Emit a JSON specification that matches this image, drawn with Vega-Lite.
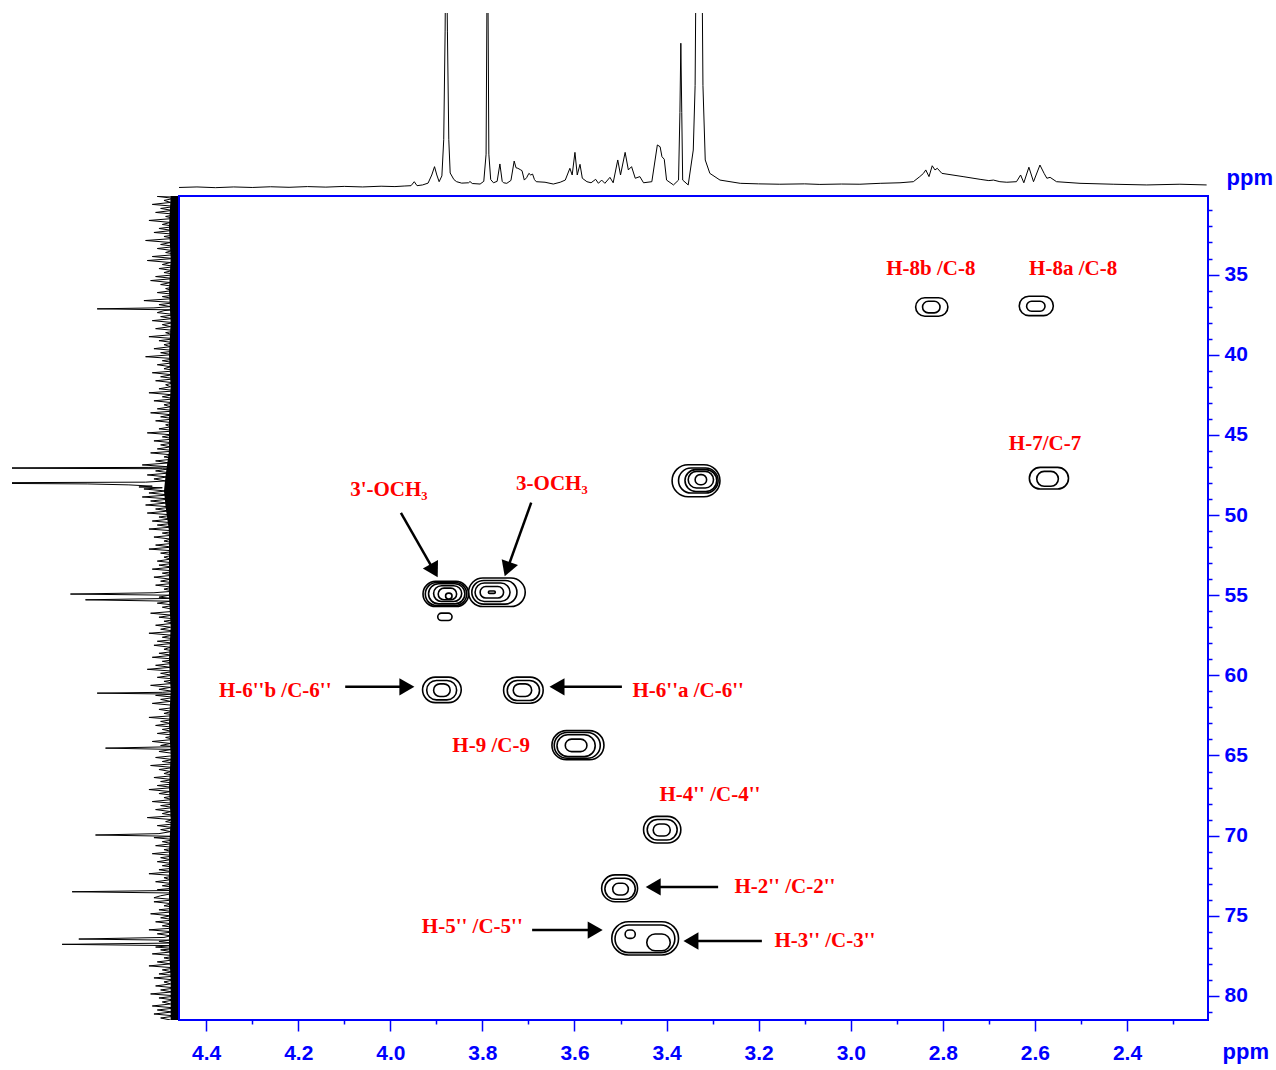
{
  "$schema": "https://vega.github.io/schema/vega-lite/v6.json",
  "background": "white",
  "padding": {"left": 12, "top": 13, "right": 0, "bottom": 0},
  "config": {"view": {"stroke": null}},
  "columns": 2,
  "spacing": {"row": 2, "column": 0},
  "align": "each",
  "bounds": "flush",
  "datasets": {
    "h1": [
      {"h": 4.459, "i": 3.6}, {"h": 4.42, "i": 3.9}, {"h": 4.38, "i": 3.5}, {"h": 4.34, "i": 3.9},
      {"h": 4.30, "i": 3.6}, {"h": 4.26, "i": 4.0}, {"h": 4.22, "i": 3.7}, {"h": 4.18, "i": 4.1},
      {"h": 4.14, "i": 3.8}, {"h": 4.10, "i": 4.2}, {"h": 4.06, "i": 3.9}, {"h": 4.02, "i": 4.3},
      {"h": 3.99, "i": 4.1}, {"h": 3.97, "i": 4.4}, {"h": 3.955, "i": 4.6}, {"h": 3.948, "i": 6.8},
      {"h": 3.942, "i": 4.6}, {"h": 3.93, "i": 5.0}, {"h": 3.918, "i": 6.0}, {"h": 3.910, "i": 10.5},
      {"h": 3.904, "i": 15.1}, {"h": 3.899, "i": 10.5}, {"h": 3.894, "i": 6.8}, {"h": 3.888, "i": 10},
      {"h": 3.884, "i": 30}, {"h": 3.881, "i": 90}, {"h": 3.879, "i": 160}, {"h": 3.876, "i": 90},
      {"h": 3.873, "i": 30}, {"h": 3.870, "i": 11.6}, {"h": 3.862, "i": 8.0}, {"h": 3.856, "i": 6.8},
      {"h": 3.845, "i": 6.0}, {"h": 3.830, "i": 6.2}, {"h": 3.827, "i": 6.9}, {"h": 3.822, "i": 5.8},
      {"h": 3.805, "i": 5.5}, {"h": 3.797, "i": 7}, {"h": 3.792, "i": 22}, {"h": 3.789, "i": 160},
      {"h": 3.786, "i": 22}, {"h": 3.782, "i": 8}, {"h": 3.776, "i": 6.2}, {"h": 3.768, "i": 7},
      {"h": 3.762, "i": 16.6}, {"h": 3.757, "i": 7}, {"h": 3.754, "i": 6.2}, {"h": 3.747, "i": 5.9},
      {"h": 3.738, "i": 7.5}, {"h": 3.731, "i": 18.2}, {"h": 3.727, "i": 14.5}, {"h": 3.723, "i": 14.2},
      {"h": 3.718, "i": 13.5}, {"h": 3.714, "i": 12.9}, {"h": 3.709, "i": 7.7}, {"h": 3.704, "i": 9},
      {"h": 3.699, "i": 11.4}, {"h": 3.695, "i": 10.5}, {"h": 3.691, "i": 11.0}, {"h": 3.687, "i": 8},
      {"h": 3.683, "i": 6.8}, {"h": 3.664, "i": 6.5}, {"h": 3.646, "i": 5.5}, {"h": 3.631, "i": 6.5},
      {"h": 3.620, "i": 7.7}, {"h": 3.610, "i": 14.2}, {"h": 3.605, "i": 10.5}, {"h": 3.599, "i": 23.0},
      {"h": 3.594, "i": 10.5}, {"h": 3.588, "i": 16.4}, {"h": 3.583, "i": 8.7}, {"h": 3.573, "i": 6.8},
      {"h": 3.564, "i": 6.2}, {"h": 3.554, "i": 8.1}, {"h": 3.548, "i": 5.9}, {"h": 3.541, "i": 7.7},
      {"h": 3.534, "i": 5.9}, {"h": 3.523, "i": 9.2}, {"h": 3.516, "i": 6.2}, {"h": 3.506, "i": 18.8},
      {"h": 3.500, "i": 10.5}, {"h": 3.490, "i": 23.0}, {"h": 3.483, "i": 13.3}, {"h": 3.476, "i": 15.1},
      {"h": 3.468, "i": 8.7}, {"h": 3.458, "i": 9.6}, {"h": 3.450, "i": 6.2}, {"h": 3.432, "i": 6.8},
      {"h": 3.420, "i": 27.1}, {"h": 3.414, "i": 26.1}, {"h": 3.410, "i": 20.6}, {"h": 3.405, "i": 19.2},
      {"h": 3.400, "i": 7.7}, {"h": 3.385, "i": 5.0}, {"h": 3.374, "i": 7.7}, {"h": 3.371, "i": 45},
      {"h": 3.369, "i": 83.3}, {"h": 3.367, "i": 45}, {"h": 3.365, "i": 7.7}, {"h": 3.353, "i": 5.0},
      {"h": 3.342, "i": 24.3}, {"h": 3.338, "i": 60}, {"h": 3.335, "i": 160}, {"h": 3.324, "i": 160},
      {"h": 3.321, "i": 60}, {"h": 3.316, "i": 18.8}, {"h": 3.306, "i": 11.4}, {"h": 3.284, "i": 7.7},
      {"h": 3.240, "i": 5.9}, {"h": 3.20, "i": 5.6}, {"h": 3.154, "i": 5.4}, {"h": 3.10, "i": 5.6},
      {"h": 3.067, "i": 5.3}, {"h": 3.02, "i": 5.5}, {"h": 2.980, "i": 5.4}, {"h": 2.936, "i": 5.9},
      {"h": 2.893, "i": 6.2}, {"h": 2.864, "i": 6.8}, {"h": 2.850, "i": 9.6}, {"h": 2.842, "i": 11.4},
      {"h": 2.837, "i": 13.3}, {"h": 2.830, "i": 9.6}, {"h": 2.823, "i": 15.6}, {"h": 2.817, "i": 13.3},
      {"h": 2.812, "i": 14.2}, {"h": 2.802, "i": 11.4}, {"h": 2.756, "i": 9.6}, {"h": 2.719, "i": 8.1},
      {"h": 2.700, "i": 7.4}, {"h": 2.690, "i": 7.7}, {"h": 2.676, "i": 6.8}, {"h": 2.661, "i": 6.5},
      {"h": 2.640, "i": 6.8}, {"h": 2.631, "i": 10.5}, {"h": 2.624, "i": 6.2}, {"h": 2.613, "i": 14.8},
      {"h": 2.603, "i": 6.8}, {"h": 2.589, "i": 16.0}, {"h": 2.580, "i": 11.4}, {"h": 2.574, "i": 8.7},
      {"h": 2.567, "i": 9.2}, {"h": 2.553, "i": 6.8}, {"h": 2.502, "i": 5.9}, {"h": 2.430, "i": 5.4},
      {"h": 2.357, "i": 5.0}, {"h": 2.285, "i": 5.4}, {"h": 2.227, "i": 5.0}
    ],
    "c13": [
      {"c":30.1,"i":4},{"c":30.125,"i":13},{"c":30.25,"i":3},{"c":30.375,"i":9},{"c":30.5,"i":5},{"c":30.625,"i":16},{"c":30.75,"i":2},{"c":30.875,"i":11},
      {"c":31.0,"i":4},{"c":31.125,"i":14},{"c":31.25,"i":1},{"c":31.375,"i":8},{"c":31.5,"i":3},{"c":31.625,"i":18},{"c":31.75,"i":5},{"c":31.875,"i":10},
      {"c":32.0,"i":2},{"c":32.125,"i":12},{"c":32.25,"i":4},{"c":32.375,"i":15},{"c":32.5,"i":1},{"c":32.625,"i":9},{"c":32.75,"i":3},{"c":32.875,"i":20},
      {"c":33.0,"i":5},{"c":33.125,"i":11},{"c":33.25,"i":2},{"c":33.375,"i":13},{"c":33.5,"i":4},{"c":33.625,"i":8},{"c":33.75,"i":1},{"c":33.875,"i":16},
      {"c":34.0,"i":3},{"c":34.125,"i":19},{"c":34.25,"i":5},{"c":34.375,"i":10},{"c":34.5,"i":2},{"c":34.625,"i":12},{"c":34.75,"i":4},{"c":34.875,"i":9},
      {"c":35.0,"i":1},{"c":35.125,"i":14},{"c":35.25,"i":3},{"c":35.375,"i":17},{"c":35.5,"i":5},{"c":35.625,"i":11},{"c":35.75,"i":2},{"c":35.875,"i":8},
      {"c":36.0,"i":4},{"c":36.125,"i":13},{"c":36.25,"i":1},{"c":36.375,"i":10},{"c":36.5,"i":3},{"c":36.625,"i":21},{"c":36.75,"i":2},{"c":36.875,"i":12},
      {"c":37.0,"i":5},{"c":37.08,"i":15},{"c":37.14,"i":49},{"c":37.2,"i":4},{"c":37.25,"i":9},{"c":37.375,"i":13},{"c":37.5,"i":2},{"c":37.625,"i":11},{"c":37.75,"i":4},{"c":37.875,"i":16},
      {"c":38.0,"i":3},{"c":38.125,"i":10},{"c":38.25,"i":5},{"c":38.375,"i":14},{"c":38.5,"i":1},{"c":38.625,"i":8},{"c":38.75,"i":4},{"c":38.875,"i":18},
      {"c":39.0,"i":2},{"c":39.125,"i":12},{"c":39.25,"i":3},{"c":39.375,"i":9},{"c":39.5,"i":5},{"c":39.625,"i":15},{"c":39.75,"i":1},{"c":39.875,"i":11},
      {"c":40.0,"i":4},{"c":40.125,"i":20},{"c":40.25,"i":2},{"c":40.375,"i":10},{"c":40.5,"i":3},{"c":40.625,"i":13},{"c":40.75,"i":5},{"c":40.875,"i":9},
      {"c":41.0,"i":1},{"c":41.125,"i":16},{"c":41.25,"i":4},{"c":41.375,"i":11},{"c":41.5,"i":2},{"c":41.625,"i":14},{"c":41.75,"i":3},{"c":41.875,"i":8},
      {"c":42.0,"i":5},{"c":42.125,"i":12},{"c":42.25,"i":1},{"c":42.375,"i":18},{"c":42.5,"i":4},{"c":42.625,"i":10},{"c":42.75,"i":2},{"c":42.875,"i":15},
      {"c":43.0,"i":3},{"c":43.125,"i":9},{"c":43.25,"i":5},{"c":43.375,"i":13},{"c":43.5,"i":1},{"c":43.625,"i":17},{"c":43.75,"i":4},{"c":43.875,"i":11},
      {"c":44.0,"i":2},{"c":44.125,"i":14},{"c":44.25,"i":3},{"c":44.375,"i":8},{"c":44.5,"i":5},{"c":44.625,"i":12},{"c":44.75,"i":1},{"c":44.875,"i":19},
      {"c":45.0,"i":4},{"c":45.125,"i":10},{"c":45.25,"i":2},{"c":45.375,"i":15},{"c":45.5,"i":3},{"c":45.625,"i":11},{"c":45.75,"i":5},{"c":45.875,"i":13},
      {"c":46.0,"i":1},{"c":46.125,"i":17},{"c":46.25,"i":4},{"c":46.375,"i":9},{"c":46.5,"i":2},{"c":46.625,"i":14},{"c":46.75,"i":6},{"c":46.875,"i":22},
      {"c":47.0,"i":5},{"c":47.03,"i":18},{"c":47.07,"i":150},{"c":47.11,"i":10},{"c":47.125,"i":6},{"c":47.25,"i":14},{"c":47.375,"i":5},{"c":47.5,"i":19},
      {"c":47.625,"i":7},{"c":47.75,"i":15},{"c":47.875,"i":8},{"c":47.95,"i":20},{"c":48.0,"i":150},{"c":48.06,"i":55},{"c":48.12,"i":30},{"c":48.2,"i":16},
      {"c":48.25,"i":24},{"c":48.3,"i":10},{"c":48.375,"i":21},{"c":48.5,"i":8},{"c":48.625,"i":18},{"c":48.75,"i":6},{"c":48.875,"i":22},
      {"c":49.0,"i":5},{"c":49.125,"i":17},{"c":49.25,"i":7},{"c":49.375,"i":20},{"c":49.5,"i":4},{"c":49.625,"i":14},{"c":49.75,"i":6},{"c":49.875,"i":19},
      {"c":50.0,"i":3},{"c":50.125,"i":12},{"c":50.25,"i":5},{"c":50.375,"i":16},{"c":50.5,"i":2},{"c":50.625,"i":13},{"c":50.75,"i":4},{"c":50.875,"i":18},
      {"c":51.0,"i":1},{"c":51.125,"i":10},{"c":51.25,"i":3},{"c":51.375,"i":15},{"c":51.5,"i":5},{"c":51.625,"i":9},{"c":51.75,"i":2},{"c":51.875,"i":14},
      {"c":52.0,"i":4},{"c":52.125,"i":18},{"c":52.25,"i":1},{"c":52.375,"i":11},{"c":52.5,"i":3},{"c":52.625,"i":9},{"c":52.75,"i":5},{"c":52.875,"i":13},
      {"c":53.0,"i":2},{"c":53.125,"i":12},{"c":53.25,"i":4},{"c":53.375,"i":16},{"c":53.5,"i":1},{"c":53.625,"i":10},{"c":53.75,"i":3},{"c":53.875,"i":15},
      {"c":54.0,"i":5},{"c":54.125,"i":11},{"c":54.25,"i":2},{"c":54.375,"i":14},{"c":54.5,"i":4},{"c":54.625,"i":9},{"c":54.75,"i":3},{"c":54.85,"i":15},
      {"c":54.93,"i":65},{"c":55.0,"i":6},{"c":55.125,"i":12},{"c":55.2,"i":4},{"c":55.29,"i":56},{"c":55.375,"i":5},{"c":55.5,"i":13},{"c":55.625,"i":2},
      {"c":55.75,"i":10},{"c":55.875,"i":4},
      {"c":56.0,"i":2},{"c":56.125,"i":17},{"c":56.25,"i":4},{"c":56.375,"i":12},{"c":56.5,"i":1},{"c":56.625,"i":9},{"c":56.75,"i":3},{"c":56.875,"i":14},
      {"c":57.0,"i":5},{"c":57.125,"i":11},{"c":57.25,"i":2},{"c":57.375,"i":18},{"c":57.5,"i":4},{"c":57.625,"i":10},{"c":57.75,"i":1},{"c":57.875,"i":13},
      {"c":58.0,"i":3},{"c":58.125,"i":15},{"c":58.25,"i":5},{"c":58.375,"i":9},{"c":58.5,"i":2},{"c":58.625,"i":12},{"c":58.75,"i":4},{"c":58.875,"i":16},
      {"c":59.0,"i":1},{"c":59.125,"i":10},{"c":59.25,"i":3},{"c":59.375,"i":14},{"c":59.5,"i":5},{"c":59.625,"i":19},{"c":59.75,"i":2},{"c":59.875,"i":11},
      {"c":60.0,"i":4},{"c":60.125,"i":13},{"c":60.25,"i":1},{"c":60.375,"i":9},{"c":60.5,"i":3},{"c":60.625,"i":17},{"c":60.75,"i":5},{"c":60.875,"i":12},
      {"c":61.0,"i":3},{"c":61.06,"i":10},{"c":61.11,"i":49},{"c":61.17,"i":4},{"c":61.25,"i":14},{"c":61.375,"i":2},{"c":61.5,"i":11},{"c":61.625,"i":5},
      {"c":61.75,"i":16},{"c":61.875,"i":3},
      {"c":62.0,"i":2},{"c":62.125,"i":12},{"c":62.25,"i":4},{"c":62.375,"i":9},{"c":62.5,"i":1},{"c":62.625,"i":18},{"c":62.75,"i":3},{"c":62.875,"i":11},
      {"c":63.0,"i":5},{"c":63.125,"i":14},{"c":63.25,"i":2},{"c":63.375,"i":10},{"c":63.5,"i":4},{"c":63.625,"i":13},{"c":63.75,"i":1},{"c":63.875,"i":8},
      {"c":64.0,"i":3},{"c":64.125,"i":16},{"c":64.25,"i":5},{"c":64.375,"i":11},{"c":64.45,"i":2},{"c":64.54,"i":44},{"c":64.62,"i":4},{"c":64.75,"i":12},
      {"c":64.875,"i":3},
      {"c":65.0,"i":2},{"c":65.125,"i":14},{"c":65.25,"i":4},{"c":65.375,"i":10},{"c":65.5,"i":1},{"c":65.625,"i":17},{"c":65.75,"i":3},{"c":65.875,"i":12},
      {"c":66.0,"i":5},{"c":66.125,"i":9},{"c":66.25,"i":2},{"c":66.375,"i":15},{"c":66.5,"i":4},{"c":66.625,"i":11},{"c":66.75,"i":1},{"c":66.875,"i":13},
      {"c":67.0,"i":3},{"c":67.125,"i":18},{"c":67.25,"i":5},{"c":67.375,"i":12},{"c":67.5,"i":2},{"c":67.625,"i":9},{"c":67.75,"i":4},{"c":67.875,"i":16},
      {"c":68.0,"i":1},{"c":68.125,"i":11},{"c":68.25,"i":3},{"c":68.375,"i":14},{"c":68.5,"i":5},{"c":68.625,"i":10},{"c":68.75,"i":2},{"c":68.875,"i":19},
      {"c":69.0,"i":4},{"c":69.125,"i":8},{"c":69.25,"i":1},{"c":69.375,"i":13},{"c":69.5,"i":3},{"c":69.625,"i":11},{"c":69.75,"i":5},{"c":69.875,"i":12},
      {"c":69.96,"i":50},{"c":70.04,"i":3},{"c":70.125,"i":15},{"c":70.25,"i":2},{"c":70.375,"i":10},{"c":70.5,"i":4},{"c":70.625,"i":14},{"c":70.75,"i":1},
      {"c":70.875,"i":9},
      {"c":71.0,"i":4},{"c":71.125,"i":16},{"c":71.25,"i":2},{"c":71.375,"i":11},{"c":71.5,"i":5},{"c":71.625,"i":13},{"c":71.75,"i":3},{"c":71.875,"i":10},
      {"c":72.0,"i":1},{"c":72.125,"i":12},{"c":72.25,"i":4},{"c":72.375,"i":18},{"c":72.5,"i":2},{"c":72.625,"i":9},{"c":72.75,"i":5},{"c":72.875,"i":14},
      {"c":73.0,"i":3},{"c":73.125,"i":10},{"c":73.25,"i":1},{"c":73.375,"i":13},{"c":73.42,"i":4},{"c":73.5,"i":64},{"c":73.58,"i":2},{"c":73.75,"i":11},
      {"c":73.875,"i":15},
      {"c":74.0,"i":2},{"c":74.125,"i":15},{"c":74.25,"i":4},{"c":74.375,"i":9},{"c":74.5,"i":1},{"c":74.625,"i":12},{"c":74.75,"i":3},{"c":74.875,"i":17},
      {"c":75.0,"i":5},{"c":75.125,"i":11},{"c":75.25,"i":2},{"c":75.375,"i":14},{"c":75.5,"i":4},{"c":75.625,"i":10},{"c":75.75,"i":1},{"c":75.875,"i":18},
      {"c":76.0,"i":3},{"c":76.125,"i":13},{"c":76.25,"i":5},{"c":76.35,"i":9},{"c":76.45,"i":60},{"c":76.52,"i":6},{"c":76.6,"i":12},{"c":76.7,"i":4},
      {"c":76.78,"i":70},{"c":76.86,"i":5},{"c":76.95,"i":14},
      {"c":77.05,"i":2},{"c":77.125,"i":11},{"c":77.25,"i":4},{"c":77.375,"i":16},{"c":77.5,"i":1},{"c":77.625,"i":9},{"c":77.75,"i":3},{"c":77.875,"i":13},
      {"c":78.0,"i":5},{"c":78.125,"i":18},{"c":78.25,"i":2},{"c":78.375,"i":10},{"c":78.5,"i":4},{"c":78.625,"i":12},{"c":78.75,"i":1},{"c":78.875,"i":15},
      {"c":79.0,"i":3},{"c":79.125,"i":9},{"c":79.25,"i":5},{"c":79.375,"i":14},{"c":79.5,"i":2},{"c":79.625,"i":11},{"c":79.75,"i":4},{"c":79.875,"i":17},
      {"c":80.0,"i":1},{"c":80.125,"i":12},{"c":80.25,"i":3},{"c":80.375,"i":10},{"c":80.5,"i":5},{"c":80.625,"i":16},{"c":80.75,"i":2},{"c":80.875,"i":13},
      {"c":81.0,"i":4},{"c":81.125,"i":15},{"c":81.25,"i":2},{"c":81.375,"i":11},{"c":81.5,"i":5}
    ],
    "c13core": [
      {"c": 30.1, "i": 5}, {"c": 32, "i": 6}, {"c": 34, "i": 5}, {"c": 36, "i": 6},
      {"c": 38, "i": 5}, {"c": 40, "i": 6}, {"c": 42, "i": 5}, {"c": 44, "i": 6},
      {"c": 46, "i": 6}, {"c": 47.5, "i": 8}, {"c": 48.5, "i": 9}, {"c": 49.5, "i": 8},
      {"c": 51, "i": 6}, {"c": 53, "i": 6}, {"c": 55, "i": 6}, {"c": 57, "i": 5},
      {"c": 59, "i": 6}, {"c": 61, "i": 5}, {"c": 63, "i": 6}, {"c": 65, "i": 5},
      {"c": 67, "i": 6}, {"c": 69, "i": 5}, {"c": 71, "i": 6}, {"c": 73, "i": 6},
      {"c": 75, "i": 6}, {"c": 77, "i": 6}, {"c": 79, "i": 5}, {"c": 81.5, "i": 5}
    ],
    "contours": [
      {"h": 2.859, "h2": 2.789, "c": 36.45, "c2": 37.60},
      {"h": 2.844, "h2": 2.806, "c": 36.67, "c2": 37.39},
      {"h": 2.634, "h2": 2.560, "c": 36.35, "c2": 37.56},
      {"h": 2.618, "h2": 2.578, "c": 36.67, "c2": 37.29},
      {"h": 2.612, "h2": 2.527, "c": 47.03, "c2": 48.38},
      {"h": 2.596, "h2": 2.549, "c": 47.28, "c2": 48.21},
      {"h": 3.388, "h2": 3.284, "c": 46.86, "c2": 48.86},
      {"h": 3.374, "h2": 3.288, "c": 47.07, "c2": 48.63},
      {"h": 3.360, "h2": 3.291, "c": 47.17, "c2": 48.53},
      {"h": 3.353, "h2": 3.298, "c": 47.28, "c2": 48.31},
      {"h": 3.338, "h2": 3.313, "c": 47.48, "c2": 48.11},
      {"h": 3.929, "h2": 3.830, "c": 54.14, "c2": 55.71},
      {"h": 3.924, "h2": 3.834, "c": 54.21, "c2": 55.64},
      {"h": 3.917, "h2": 3.838, "c": 54.29, "c2": 55.54},
      {"h": 3.906, "h2": 3.845, "c": 54.41, "c2": 55.39},
      {"h": 3.896, "h2": 3.856, "c": 54.56, "c2": 55.29},
      {"h": 3.880, "h2": 3.866, "c": 54.87, "c2": 55.24},
      {"h": 3.830, "h2": 3.707, "c": 53.93, "c2": 55.71},
      {"h": 3.823, "h2": 3.725, "c": 54.08, "c2": 55.56},
      {"h": 3.816, "h2": 3.740, "c": 54.24, "c2": 55.39},
      {"h": 3.805, "h2": 3.754, "c": 54.46, "c2": 55.18},
      {"h": 3.787, "h2": 3.772, "c": 54.74, "c2": 54.89},
      {"h": 3.897, "h2": 3.866, "c": 56.12, "c2": 56.58},
      {"h": 3.930, "h2": 3.846, "c": 60.11, "c2": 61.70},
      {"h": 3.921, "h2": 3.856, "c": 60.32, "c2": 61.53},
      {"h": 3.906, "h2": 3.870, "c": 60.53, "c2": 61.32},
      {"h": 3.754, "h2": 3.668, "c": 60.11, "c2": 61.74},
      {"h": 3.746, "h2": 3.676, "c": 60.32, "c2": 61.57},
      {"h": 3.733, "h2": 3.693, "c": 60.53, "c2": 61.32},
      {"h": 3.649, "h2": 3.536, "c": 63.45, "c2": 65.27},
      {"h": 3.644, "h2": 3.544, "c": 63.57, "c2": 65.17},
      {"h": 3.638, "h2": 3.555, "c": 63.71, "c2": 65.07},
      {"h": 3.620, "h2": 3.573, "c": 63.98, "c2": 64.76},
      {"h": 3.450, "h2": 3.369, "c": 68.80, "c2": 70.46},
      {"h": 3.442, "h2": 3.377, "c": 68.99, "c2": 70.27},
      {"h": 3.429, "h2": 3.392, "c": 69.27, "c2": 70.02},
      {"h": 3.541, "h2": 3.463, "c": 72.45, "c2": 74.12},
      {"h": 3.534, "h2": 3.468, "c": 72.66, "c2": 73.97},
      {"h": 3.517, "h2": 3.483, "c": 72.97, "c2": 73.70},
      {"h": 3.519, "h2": 3.374, "c": 75.37, "c2": 77.45},
      {"h": 3.512, "h2": 3.382, "c": 75.57, "c2": 77.30},
      {"h": 3.490, "h2": 3.468, "c": 75.89, "c2": 76.41},
      {"h": 3.443, "h2": 3.392, "c": 76.14, "c2": 77.18}
    ],
    "arrows": [
      {"id": 1, "h": 3.905, "c": 53.48, "h2": 3.977, "c2": 49.86},
      {"id": 2, "h": 3.746, "c": 53.38, "h2": 3.694, "c2": 49.23},
      {"id": 3, "h": 3.964, "c": 60.72, "h2": 4.098, "c2": 60.72},
      {"id": 4, "h": 3.638, "c": 60.72, "h2": 3.497, "c2": 60.72},
      {"id": 5, "h": 3.429, "c": 73.20, "h2": 3.288, "c2": 73.20},
      {"id": 6, "h": 3.555, "c": 75.89, "h2": 3.692, "c2": 75.89},
      {"id": 7, "h": 3.347, "c": 76.57, "h2": 3.193, "c2": 76.57}
    ],
    "labels": [
      {"t": "H-8b /C-8", "h": 2.826, "c": 34.63},
      {"t": "H-8a /C-8", "h": 2.517, "c": 34.63},
      {"t": "H-7/C-7", "h": 2.578, "c": 45.55},
      {"t": "3'-OCH₃", "h": 4.003, "c": 48.42},
      {"t": "3-OCH₃", "h": 3.649, "c": 48.05},
      {"t": "H-6''b /C-6''", "h": 4.250, "c": 60.97},
      {"t": "H-6''a /C-6''", "h": 3.353, "c": 60.97},
      {"t": "H-9 /C-9", "h": 3.781, "c": 64.40},
      {"t": "H-4'' /C-4''", "h": 3.306, "c": 67.46},
      {"t": "H-2'' /C-2''", "h": 3.143, "c": 73.20},
      {"t": "H-5'' /C-5''", "h": 3.822, "c": 75.70},
      {"t": "H-3'' /C-3''", "h": 3.056, "c": 76.57}
    ]
  },
  "concat": [
    {
      "width": 167,
      "height": 181,
      "data": {"values": []},
      "mark": "point"
    },
    {
      "width": 1029,
      "height": 181,
      "data": {"name": "h1"},
      "mark": {"type": "line", "color": "black", "strokeWidth": 1, "clip": true},
      "encoding": {
        "x": {"field": "h", "type": "quantitative", "axis": null,
              "scale": {"domain": [2.224, 4.459], "reverse": true, "nice": false, "zero": false}},
        "y": {"field": "i", "type": "quantitative", "axis": null,
              "scale": {"domain": [0, 100], "nice": false, "zero": false}}
      }
    },
    {
      "width": 167,
      "height": 824,
      "encoding": {
        "y": {"field": "c", "type": "quantitative", "axis": null,
              "scale": {"domain": [30.1, 81.5], "reverse": true, "nice": false, "zero": false}},
        "x": {"field": "i", "type": "quantitative", "axis": null,
              "scale": {"domain": [0, 100], "reverse": true, "nice": false, "zero": false}}
      },
      "layer": [
        {
          "data": {"name": "c13core"},
          "mark": {"type": "area", "orient": "horizontal", "color": "black", "clip": true}
        },
        {
          "data": {"name": "c13"},
          "mark": {"type": "line", "orient": "horizontal", "color": "black", "strokeWidth": 1, "clip": true},
          "encoding": {"order": {"field": "c", "type": "quantitative"}}
        }
      ]
    },
    {
      "width": 1029,
      "height": 824,
      "view": {"stroke": "#0000ff", "strokeWidth": 2},
      "encoding": {
        "x": {
          "field": "h", "type": "quantitative",
          "scale": {"domain": [2.224, 4.459], "reverse": true, "nice": false, "zero": false},
          "axis": {
            "orient": "bottom",
            "values": [2.3, 2.4, 2.5, 2.6, 2.7, 2.8, 2.9, 3.0, 3.1, 3.2, 3.3, 3.4, 3.5, 3.6, 3.7, 3.8, 3.9, 4.0, 4.1, 4.2, 4.3, 4.4],
            "domain": false, "grid": false,
            "tickColor": "#0000ff", "tickWidth": 1.5,
            "tickSize": {"condition": {"test": "abs(datum.value*5 - round(datum.value*5)) < 0.01", "value": 11}, "value": 4},
            "labelExpr": "abs(datum.value*5 - round(datum.value*5)) < 0.01 ? format(datum.value, '.1f') : ''",
            "labelFont": "Liberation Sans", "labelFontWeight": "bold", "labelFontSize": 21, "labelColor": "#0000ff",
            "labelPadding": 11, "labelOverlap": false, "labelFlush": false, "labelBound": false,
            "title": "ppm", "titleFont": "Liberation Sans", "titleFontWeight": "bold", "titleFontSize": 22,
            "titleColor": "#0000ff", "titleX": 1043, "titleY": 38, "titleAlign": "left", "titleBaseline": "alphabetic"
          }
        },
        "y": {
          "field": "c", "type": "quantitative",
          "scale": {"domain": [30.1, 81.5], "reverse": true, "nice": false, "zero": false},
          "axis": {
            "orient": "right",
            "values": [31, 32, 33, 34, 35, 36, 37, 38, 39, 40, 41, 42, 43, 44, 45, 46, 47, 48, 49, 50, 51, 52, 53, 54, 55, 56, 57, 58, 59, 60, 61, 62, 63, 64, 65, 66, 67, 68, 69, 70, 71, 72, 73, 74, 75, 76, 77, 78, 79, 80, 81],
            "domain": false, "grid": false,
            "tickColor": "#0000ff", "tickWidth": 1.5,
            "tickSize": {"condition": {"test": "datum.value % 5 === 0", "value": 11}, "value": 4},
            "labelExpr": "datum.value % 5 === 0 ? datum.label : ''",
            "labelFont": "Liberation Sans", "labelFontWeight": "bold", "labelFontSize": 21, "labelColor": "#0000ff",
            "labelPadding": 5, "labelOverlap": false, "labelFlush": false, "labelBound": false,
            "title": "ppm", "titleFont": "Liberation Sans", "titleFontWeight": "bold", "titleFontSize": 22,
            "titleColor": "#0000ff", "titleAngle": 0, "titleX": 18, "titleY": -12,
            "titleAlign": "left", "titleBaseline": "alphabetic"
          }
        }
      },
      "layer": [
        {
          "data": {"name": "contours"},
          "mark": {"type": "rect", "filled": false, "stroke": "black", "strokeWidth": 1.6, "cornerRadius": 20},
          "encoding": {"x2": {"field": "h2"}, "y2": {"field": "c2"}}
        },
        {
          "data": {"name": "arrows"},
          "mark": {"type": "rule", "color": "black", "strokeWidth": 2.5},
          "encoding": {"x2": {"field": "h2"}, "y2": {"field": "c2"}}
        },
        {
          "data": {"name": "arrows"},
          "transform": [{"filter": "datum.id === 3 || datum.id === 6"}],
          "mark": {"type": "point", "shape": "triangle-right", "filled": true, "color": "black", "size": 300, "opacity": 1}
        },
        {
          "data": {"name": "arrows"},
          "transform": [{"filter": "datum.id === 4 || datum.id === 5 || datum.id === 7"}],
          "mark": {"type": "point", "shape": "triangle-left", "filled": true, "color": "black", "size": 300, "opacity": 1}
        },
        {
          "data": {"name": "arrows"},
          "transform": [{"filter": "datum.id === 1"}],
          "mark": {"type": "point", "shape": "triangle-down", "angle": -29, "filled": true, "color": "black", "size": 300, "opacity": 1}
        },
        {
          "data": {"name": "arrows"},
          "transform": [{"filter": "datum.id === 2"}],
          "mark": {"type": "point", "shape": "triangle-down", "angle": 20, "filled": true, "color": "black", "size": 300, "opacity": 1}
        },
        {
          "data": {"name": "labels"},
          "mark": {"type": "text", "font": "Liberation Serif", "fontWeight": "bold", "fontSize": 21,
                   "color": "#ff0000", "align": "center", "baseline": "middle"},
          "encoding": {"text": {"field": "t"}}
        }
      ]
    }
  ]
}
